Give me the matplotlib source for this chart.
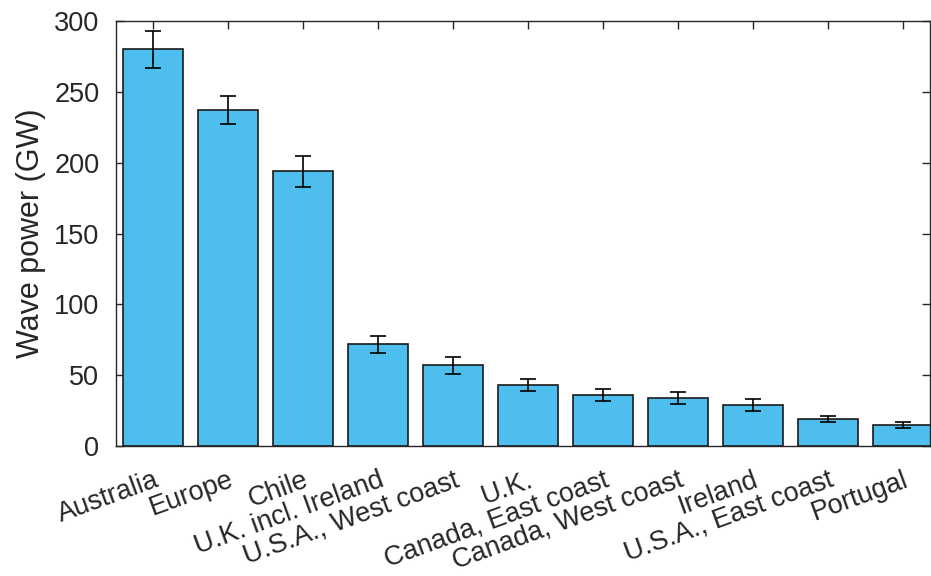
import numpy as np
import matplotlib
matplotlib.use("Agg")
import matplotlib.pyplot as plt

regions = ["Australia", "Europe", "Chile", "U.K. incl. Ireland", "U.S.A., West coast",
           "U.K.", "Canada, East coast", "Canada, West coast", "Ireland",
           "U.S.A., East coast", "Portugal"]
power = [280, 237, 194, 72, 57, 43, 36, 34, 29, 19, 15]
err = [13, 10, 11, 6, 6, 4, 4, 4, 4, 2, 2]

plt.rcParams['font.family'] = ['Liberation Sans', 'DejaVu Sans']
plt.rcParams['text.color'] = '#262626'
plt.rcParams['axes.labelcolor'] = '#262626'

fig = plt.figure(figsize=(9.31, 5.76), dpi=100)
ax = fig.add_axes([116/931, 130/576, 814/931, 425/576])

x = np.arange(len(regions))
ax.bar(x, power, width=0.8, color='#4DBEEE', edgecolor='#1a1a1a', linewidth=1.2, zorder=2)
ax.errorbar(x, power, yerr=err, fmt='none', ecolor='black', elinewidth=1.2,
            capsize=6, capthick=1.2, zorder=3)

ax.set_xlim(-0.5, 10.36)
ax.set_ylim(0, 300)
ax.set_yticks(range(0, 301, 50))
ax.set_xticks(x)
ax.set_xticklabels(regions, rotation=20, ha='right', va='top', rotation_mode='anchor')
ax.set_ylabel('Wave power (GW)', fontsize=22, labelpad=6)

ax.tick_params(axis='both', direction='in', length=6, width=1, colors='#262626',
               labelsize=19.5, top=True, right=True)
ax.tick_params(axis='x', pad=15)
ax.tick_params(axis='y', pad=12)
for s in ax.spines.values():
    s.set_color('#262626')
    s.set_linewidth(1)

fig.savefig('out.png', dpi=100)
